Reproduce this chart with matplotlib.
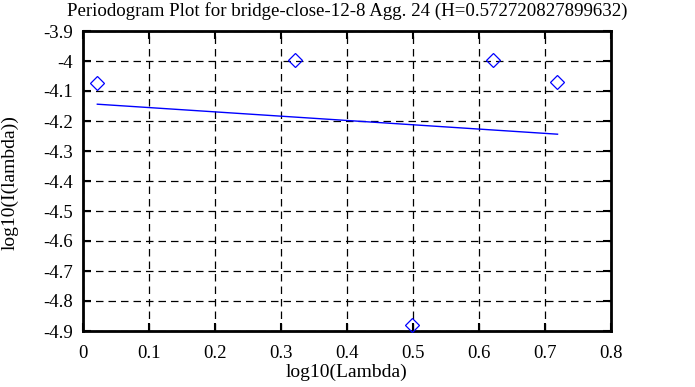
import matplotlib
matplotlib.use('Agg')
import matplotlib.pyplot as plt

# data
pts_x = [0.0208, 0.321, 0.498, 0.6217, 0.7186]
pts_y = [-4.072, -3.998, -4.880, -3.998, -4.071]
fit_x = [0.0217, 0.719]
fit_y = [-4.144, -4.244]

title = 'Periodogram Plot for bridge-close-12-8 Agg. 24 (H=0.572720827899632)'

plt.rcParams['font.family'] = ['Liberation Serif', 'DejaVu Serif']
plt.rcParams['font.size'] = 14

W, H = 695, 387
fig = plt.figure(figsize=(W / 100, H / 100), dpi=100)
ax = fig.add_axes([83 / W, 1 - 331 / H, (611 - 83) / W, (331 - 31) / H])

ax.plot(fit_x, fit_y, color='#0000ff', linewidth=1.0)
ax.plot(pts_x, pts_y, linestyle='none', marker='D', markersize=7,
        markerfacecolor='none', markeredgecolor='#0000ff', markeredgewidth=0.9,
        clip_on=False, zorder=3)

ax.set_xlim(0, 0.8)
ax.set_ylim(-4.9, -3.9)
ax.set_xticks([i / 10 for i in range(9)])
ax.set_xticklabels(['0', '0.1', '0.2', '0.3', '0.4', '0.5', '0.6', '0.7', '0.8'])
ax.set_yticks([-3.9 - i / 10 for i in range(11)])
ax.set_yticklabels(['-3.9', '-4', '-4.1', '-4.2', '-4.3', '-4.4', '-4.5',
                    '-4.6', '-4.7', '-4.8', '-4.9'])

ax.grid(True, color='black', linestyle=(0, (6, 4)), linewidth=0.9)
ax.set_axisbelow(True)
ax.tick_params(direction='in', top=True, right=True, length=6, width=1.5,
               colors='black', labelsize=13.5)
ax.tick_params(axis='x', pad=10)
ax.tick_params(axis='y', pad=7)
for s in ax.spines.values():
    s.set_linewidth(2)

ax.set_xlabel('log10(Lambda)', labelpad=1)
ax.set_ylabel('log10(I(lambda))')
ax.yaxis.set_label_coords(-0.121, 0.495)

fig.text(347 / W, 1 - 15.5 / H, title, ha='center', va='baseline', fontsize=13.6)

fig.savefig('out.png', dpi=100)
